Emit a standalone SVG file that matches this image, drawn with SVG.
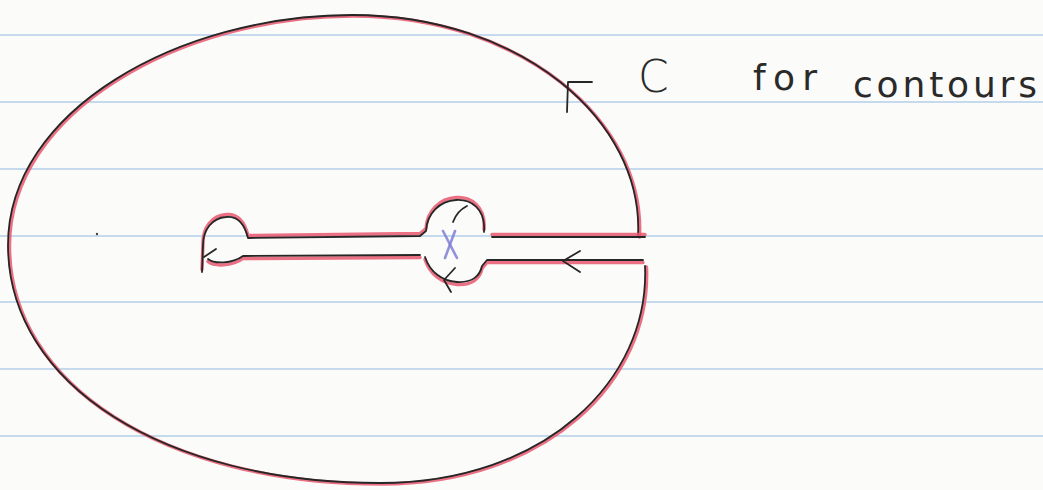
<svg xmlns="http://www.w3.org/2000/svg" width="1043" height="490" viewBox="0 0 1043 490">
  <style>
    .rule { stroke: #b3cfe8; stroke-width: 1.6; }
    .red { fill: none; stroke: #e8576e; stroke-width: 3.4; stroke-linecap: round; stroke-linejoin: round; opacity: 0.85; }
    .ink { fill: none; stroke: #262626; stroke-width: 1.8; stroke-linecap: round; stroke-linejoin: round; }
    .lbl { font-family: "DejaVu Sans", "Liberation Sans", sans-serif; fill: #2a2a2a; }
    .x { stroke: #7f80d6; stroke-width: 2.6; stroke-linecap: round; opacity: 0.85; }
  </style>
  <defs>
    <path id="outer" d="M 638,236 C 644,120 520,15 352,15 C 180,15 8,110 8,245 C 8,385 165,483 380,483 C 545,483 650,380 645,266"/>
    <path id="upper" d="M 645,237 L 492,237 M 484,232 C 486,208 470,199 456,200 C 440,201 427,213 426,231 L 420,236 L 248,238 C 244,222 236,216 226,217 C 212,218 203,230 203,245 L 202,272"/>
    <path id="lower" d="M 208,259 C 214,264 232,264 243,256 L 420,255 M 425,257 C 430,272 442,281 457,282 C 472,283 480,276 482,266 L 487,260 L 643,260"/>
  </defs>
  <rect width="1043" height="490" fill="#fbfbf9"/>
  <g id="paper-lines">
    <line class="rule" x1="0" y1="35" x2="1043" y2="35"/>
    <line class="rule" x1="0" y1="102" x2="1043" y2="102"/>
    <line class="rule" x1="0" y1="169" x2="1043" y2="169"/>
    <line class="rule" x1="0" y1="236" x2="1043" y2="236"/>
    <line class="rule" x1="0" y1="302" x2="1043" y2="302"/>
    <line class="rule" x1="0" y1="369" x2="1043" y2="369"/>
    <line class="rule" x1="0" y1="436" x2="1043" y2="436"/>
  </g>
  <g id="contour-outer">
    <use href="#outer" class="red" transform="translate(1.5,1)"/>
    <use href="#outer" class="ink"/>
  </g>
  <g id="keyhole">
    <use href="#upper" class="red" transform="translate(0,-2.5)"/>
    <use href="#lower" class="red" transform="translate(0,2.5)"/>
    <use href="#upper" class="ink"/>
    <use href="#lower" class="ink"/>
  </g>
  <g id="arrows">
    <polyline class="ink" points="592,82 568,82 567,112"/>
    <polyline class="ink" points="580,251 563,261 580,272"/>
    <polyline class="ink" points="455,268 444,280 451,292"/>
    <path class="ink" d="M 453,222 Q 457,211 467,206"/>
    <polyline class="ink" points="216,249 204,257"/>
  </g>
  <g id="singularity">
    <line class="x" x1="443" y1="231" x2="457" y2="258"/>
    <line class="x" x1="455" y1="231" x2="445" y2="258"/>
  </g>
  <circle cx="97" cy="234" r="1.2" fill="#444"/>
  <g id="label">
    <text class="lbl" x="638" y="92" font-size="44" font-weight="300">C</text>
    <text class="lbl" x="753" y="90" font-size="36" textLength="64" lengthAdjust="spacing">for</text>
    <text class="lbl" x="853" y="97" font-size="36" textLength="184" lengthAdjust="spacing">contours</text>
  </g>
</svg>
